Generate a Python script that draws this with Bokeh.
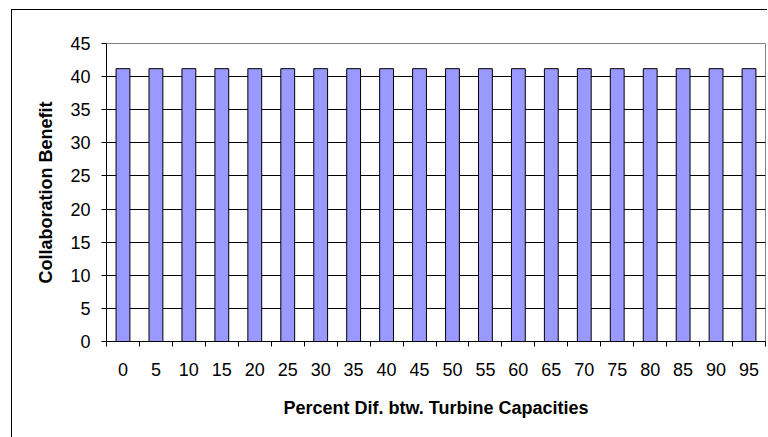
from bokeh.plotting import figure
from bokeh.models import FixedTicker, ColumnDataSource, Range1d
from bokeh.embed import file_html
from bokeh.resources import INLINE

# Percent difference between turbine capacities and the resulting collaboration benefit
capacity_diff = ["0", "5", "10", "15", "20", "25", "30", "35", "40", "45",
                 "50", "55", "60", "65", "70", "75", "80", "85", "90", "95"]
benefit = [41.2] * len(capacity_diff)
y_ticks = [0, 5, 10, 15, 20, 25, 30, 35, 40, 45]

centers = [i + 0.5 for i in range(len(capacity_diff))]
source = ColumnDataSource(dict(x=centers, top=benefit, label=capacity_diff))

FONT = "Liberation Sans"

p = figure(output_backend="svg", toolbar_location=None,
           frame_width=659, frame_height=298,
           x_range=Range1d(0, len(capacity_diff)), y_range=Range1d(0, 45),
           min_border_left=94, min_border_top=33, min_border_right=2,
           min_border_bottom=96)
p.margin = (9, 0, 0, 11)
p.styles = {"border-left": "1px solid black", "border-top": "1px solid black"}
p.background_fill_color = "white"
p.border_fill_color = "white"
p.outline_line_color = "#808080"
p.outline_line_width = 1

p.vbar(x="x", top="top", width=0.42, bottom=0, source=source,
       fill_color="#9999FF", line_color="black", line_width=1)

# x axis: labels at category centers, tick marks at category boundaries
p.xaxis.ticker = FixedTicker(ticks=centers,
                             minor_ticks=list(range(len(capacity_diff) + 1)))
p.xaxis.major_label_overrides = {c: lab for c, lab in zip(centers, capacity_diff)}
p.xaxis.major_tick_out = 0
p.xaxis.major_tick_in = 0
p.xaxis.minor_tick_out = 5
p.xaxis.minor_tick_in = 0
p.xaxis.major_label_standoff = 16
p.xaxis.axis_label = "Percent Dif. btw. Turbine Capacities"
p.xaxis.axis_label_standoff = 19

p.yaxis.ticker = FixedTicker(ticks=y_ticks, minor_ticks=[])
p.yaxis.major_tick_out = 5
p.yaxis.major_tick_in = 0
p.yaxis.major_label_standoff = 11
p.yaxis.axis_label = "Collaboration Benefit"
p.yaxis.axis_label_standoff = 11

for ax in (p.xaxis, p.yaxis):
    ax.axis_line_color = "black"
    ax.major_tick_line_color = "black"
    ax.minor_tick_line_color = "black"
    ax.major_label_text_font = FONT
    ax.major_label_text_font_size = "18px"
    ax.major_label_text_color = "black"
    ax.axis_label_text_font = FONT
    ax.axis_label_text_font_size = "18px"
    ax.axis_label_text_font_style = "bold"
    ax.axis_label_text_color = "black"

p.xgrid.visible = False
p.ygrid.ticker = FixedTicker(ticks=y_ticks[1:-1])
p.ygrid.grid_line_color = "black"
p.ygrid.grid_line_width = 1

open("out.html", "w").write(file_html(p, INLINE))
